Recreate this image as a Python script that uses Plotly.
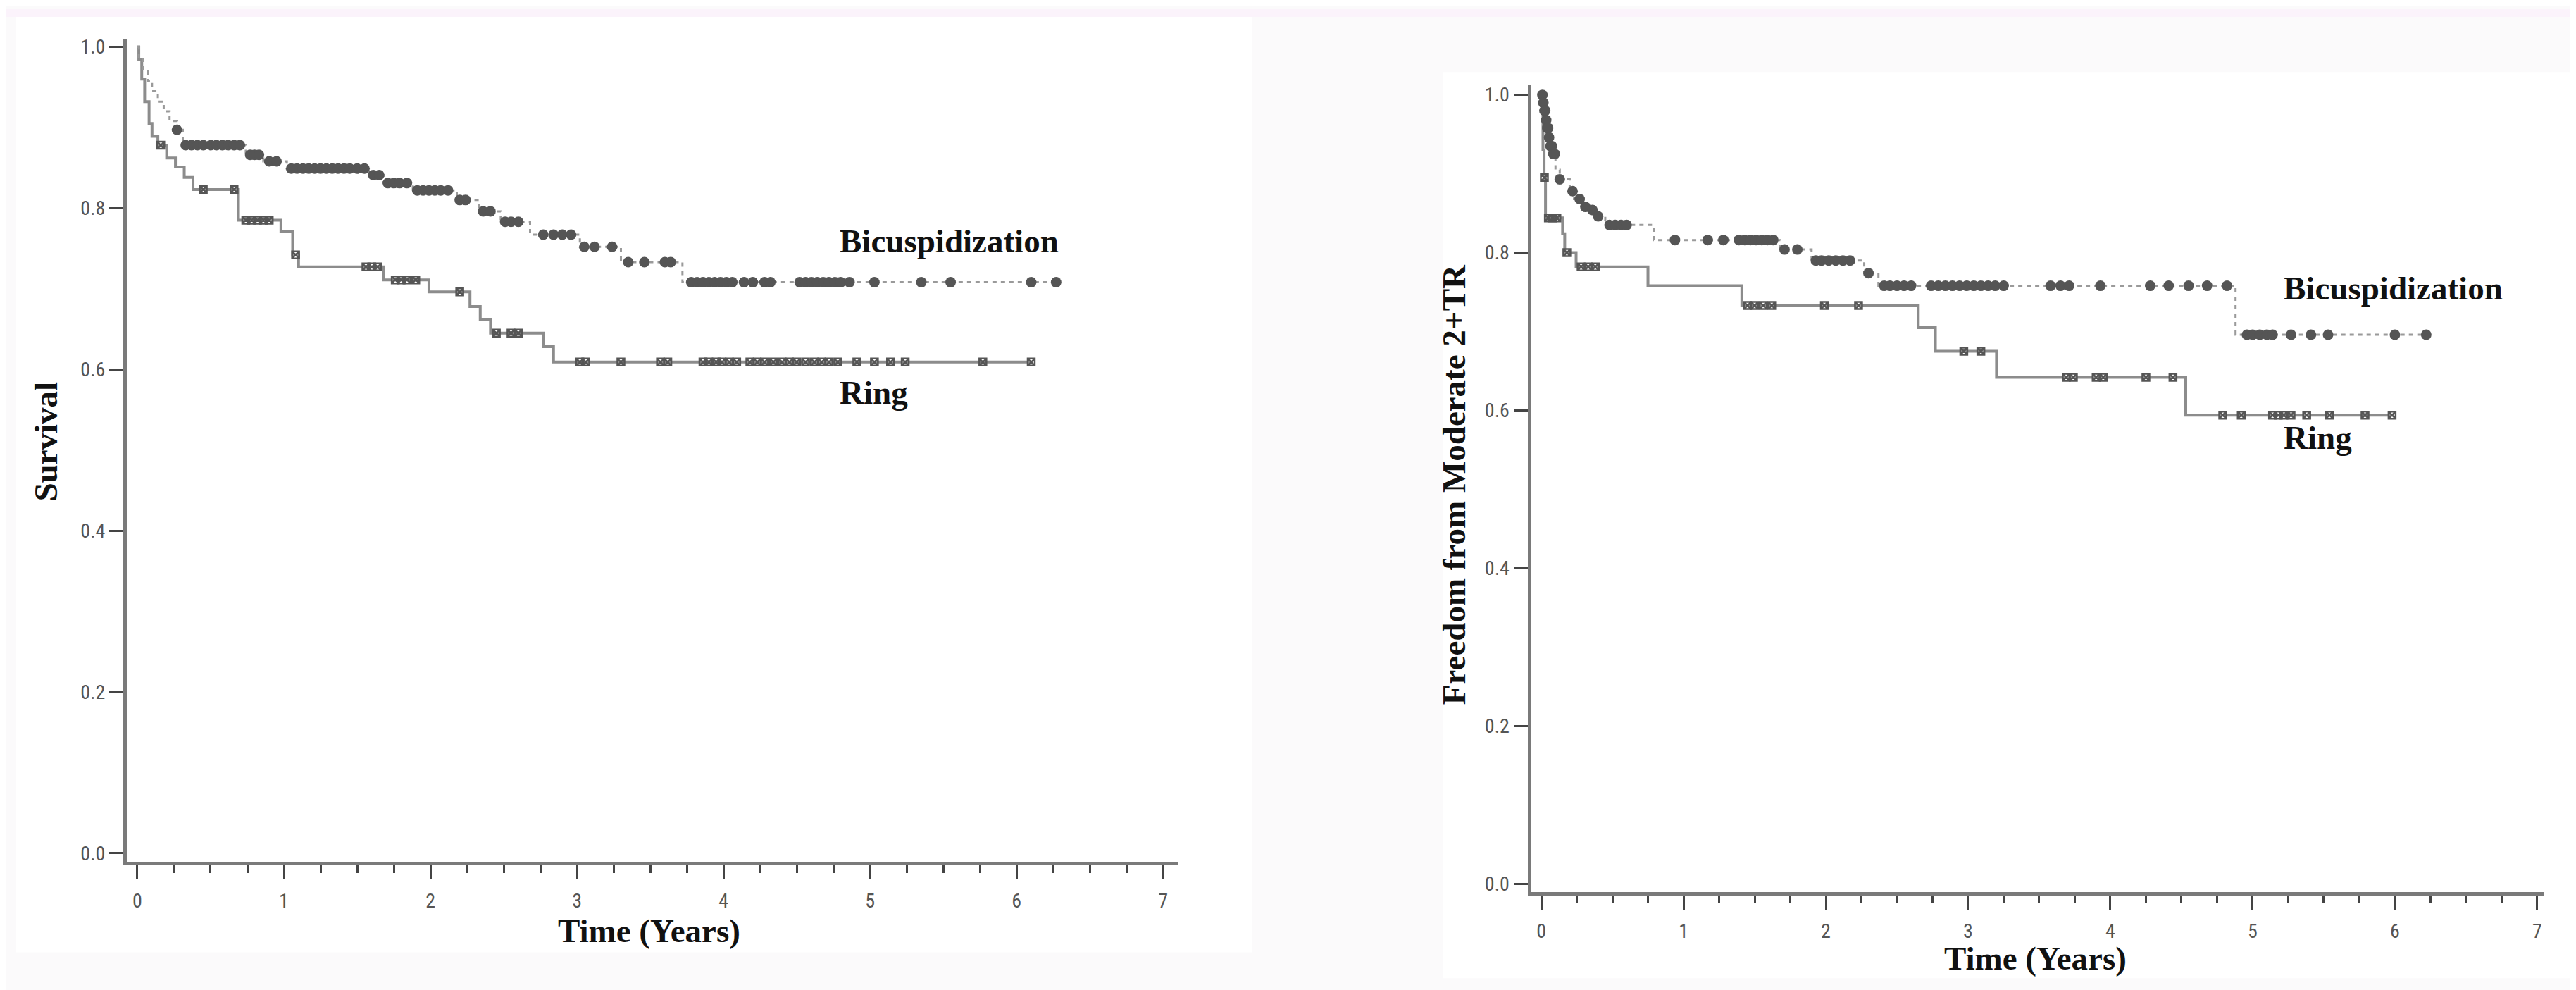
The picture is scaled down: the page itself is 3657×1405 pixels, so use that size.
import numpy as np
import plotly.graph_objects as go

W, H = 3657, 1405

# ---------------- Data ----------------
# Left panel: Survival
surv_bic_t = [0, 0.01, 0.04, 0.07, 0.10, 0.14, 0.18, 0.22, 0.27, 0.31, 0.74, 0.86, 1.02,
              1.58, 1.68, 1.88, 2.18, 2.33, 2.48, 2.68, 3.02, 3.30, 3.72]
surv_bic_s = [1.0, 0.985, 0.972, 0.958, 0.945, 0.932, 0.920, 0.908, 0.897, 0.878, 0.866, 0.858, 0.849,
              0.841, 0.831, 0.822, 0.810, 0.796, 0.783, 0.767, 0.752, 0.733, 0.708]
surv_bic_end = 6.27
surv_bic_cens = [0.27, 0.33, 0.37, 0.41, 0.45, 0.50, 0.54, 0.58, 0.62, 0.66, 0.70, 0.77, 0.80, 0.83,
                 0.90, 0.95, 1.05, 1.09, 1.13, 1.17, 1.21, 1.25, 1.29, 1.33, 1.37, 1.41, 1.45, 1.50,
                 1.55, 1.61, 1.65, 1.71, 1.75, 1.79, 1.84, 1.91, 1.95, 1.99, 2.03, 2.07, 2.12, 2.20,
                 2.24, 2.36, 2.41, 2.51, 2.55, 2.60, 2.77, 2.84, 2.90, 2.96, 3.05, 3.12, 3.24, 3.35,
                 3.46, 3.60, 3.64, 3.78, 3.82, 3.86, 3.90, 3.94, 3.98, 4.02, 4.06, 4.14, 4.20, 4.28,
                 4.32, 4.52, 4.56, 4.60, 4.64, 4.68, 4.72, 4.76, 4.80, 4.86, 5.03, 5.35, 5.55, 6.10, 6.27]

surv_ring_t = [0, 0.01, 0.03, 0.05, 0.08, 0.10, 0.14, 0.20, 0.26, 0.32, 0.38, 0.69, 0.98, 1.06,
               1.10, 1.68, 1.99, 2.27, 2.34, 2.41, 2.77, 2.84]
surv_ring_s = [1.0, 0.984, 0.960, 0.932, 0.905, 0.889, 0.878, 0.862, 0.851, 0.838, 0.823, 0.785, 0.771,
               0.742, 0.727, 0.711, 0.696, 0.678, 0.662, 0.645, 0.628, 0.609]
surv_ring_end = 6.10
surv_ring_cens = [0.16, 0.45, 0.66, 0.74, 0.78, 0.82, 0.86, 0.90, 1.08, 1.56, 1.60, 1.64, 1.76, 1.80,
                  1.84, 1.90, 2.20, 2.45, 2.55, 2.60, 3.02, 3.06, 3.30, 3.57, 3.62, 3.86, 3.90, 3.95,
                  3.99, 4.04, 4.09, 4.18, 4.23, 4.28, 4.34, 4.40, 4.45, 4.50, 4.56, 4.62, 4.67, 4.72,
                  4.78, 4.91, 5.03, 5.14, 5.24, 5.77, 6.10]

# Right panel: Freedom from Moderate 2+TR
tr_bic_t = [0, 0.01, 0.02, 0.03, 0.04, 0.05, 0.06, 0.08, 0.10, 0.13, 0.20, 0.23, 0.29, 0.34, 0.39,
            0.45, 0.79, 1.68, 1.90, 2.27, 2.37, 4.88]
tr_bic_s = [1.0, 0.990, 0.980, 0.968, 0.958, 0.946, 0.935, 0.925, 0.905, 0.893, 0.878, 0.868, 0.858,
            0.854, 0.846, 0.835, 0.816, 0.804, 0.790, 0.774, 0.758, 0.696]
tr_bic_end = 6.24
tr_bic_cens = [0.008, 0.015, 0.022, 0.028, 0.035, 0.042, 0.048, 0.055, 0.065, 0.075, 0.085, 0.095,
               0.13, 0.22, 0.27, 0.31, 0.36, 0.40, 0.48, 0.52, 0.56, 0.60, 0.94, 1.17, 1.28, 1.39,
               1.43, 1.47, 1.51, 1.55, 1.59, 1.63, 1.71, 1.80, 1.93, 1.97, 2.02, 2.07, 2.12, 2.17,
               2.30, 2.41, 2.45, 2.50, 2.55, 2.60, 2.74, 2.79, 2.84, 2.89, 2.94, 2.99, 3.04, 3.09,
               3.14, 3.19, 3.25, 3.58, 3.65, 3.71, 3.93, 4.28, 4.41, 4.55, 4.68, 4.82, 4.96, 5.00,
               5.05, 5.10, 5.14, 5.27, 5.41, 5.53, 6.00, 6.22]

tr_ring_t = [0, 0.012, 0.02, 0.03, 0.15, 0.165, 0.245, 0.75, 1.41, 2.65, 2.77, 3.20, 4.53]
tr_ring_s = [1.0, 0.930, 0.895, 0.844, 0.824, 0.800, 0.782, 0.758, 0.733, 0.705, 0.675, 0.642, 0.594]
tr_ring_end = 5.98
tr_ring_cens = [0.022, 0.05, 0.08, 0.11, 0.18, 0.28, 0.33, 0.38, 1.45, 1.50, 1.56, 1.62, 1.99, 2.23,
                2.97, 3.09, 3.69, 3.74, 3.90, 3.95, 4.25, 4.44, 4.79, 4.92, 5.14, 5.18, 5.22, 5.27,
                5.38, 5.54, 5.79, 5.98]

y_ticks = [0.0, 0.2, 0.4, 0.6, 0.8, 1.0]
x_ticks = [0, 1, 2, 3, 4, 5, 6, 7]
group_names = ["Bicuspidization", "Ring"]
left_ytitle = "Survival"
right_ytitle = "Freedom from Moderate 2+TR"
xtitle = "Time (Years)"


def step_xy(t, s, end):
    x = list(t) + [end]
    y = list(s) + [s[-1]]
    return x, y


def cens_y(t, s, c):
    t = np.asarray(t)
    s = np.asarray(s)
    idx = np.searchsorted(t, np.asarray(c), side="right") - 1
    return s[np.clip(idx, 0, len(s) - 1)]


LINE_GRAY = "#8c8c8c"
MARK = "#555555"

fig = go.Figure()


def add_panel(xa, ya, bt, bs, bend, bc, rt, rs, rend, rc):
    x, y = step_xy(rt, rs, rend)
    fig.add_trace(go.Scatter(x=x, y=y, mode="lines", line=dict(shape="hv", color=LINE_GRAY, width=4),
                             xaxis=xa, yaxis=ya, showlegend=False, hoverinfo="skip"))
    fig.add_trace(go.Scatter(x=rc, y=cens_y(rt, rs, rc), mode="markers",
                             marker=dict(symbol="square-x-open", size=10, color=MARK, line=dict(width=2.5, color=MARK)),
                             xaxis=xa, yaxis=ya, showlegend=False, hoverinfo="skip"))
    x, y = step_xy(bt, bs, bend)
    fig.add_trace(go.Scatter(x=x, y=y, mode="lines",
                             line=dict(shape="hv", color="#9a9a9a", width=3, dash="6px,6px"),
                             xaxis=xa, yaxis=ya, showlegend=False, hoverinfo="skip"))
    fig.add_trace(go.Scatter(x=bc, y=cens_y(bt, bs, bc), mode="markers",
                             marker=dict(symbol="circle", size=15, color=MARK, line=dict(width=0)),
                             xaxis=xa, yaxis=ya, showlegend=False, hoverinfo="skip"))


add_panel("x", "y", surv_bic_t, surv_bic_s, surv_bic_end, surv_bic_cens,
          surv_ring_t, surv_ring_s, surv_ring_end, surv_ring_cens)
add_panel("x2", "y2", tr_bic_t, tr_bic_s, tr_bic_end, tr_bic_cens,
          tr_ring_t, tr_ring_s, tr_ring_end, tr_ring_cens)

TICKFONT = dict(family="Liberation Sans Narrow, Arial Narrow, Roboto Condensed, Liberation Sans, sans-serif",
                size=28, color="#555555")
AXCOL = "#7a7a7a"


def xaxis_cfg(domain, rng):
    return dict(domain=domain, range=rng, showgrid=False, zeroline=False, showline=True,
                linecolor=AXCOL, linewidth=5, ticks="outside", ticklen=20, tickwidth=3,
                tickcolor="#444444", tickvals=x_ticks, ticktext=[str(v) for v in x_ticks],
                tickfont=TICKFONT, ticklabelstandoff=6,
                minor=dict(dtick=0.25, tick0=0, ticks="outside", ticklen=11, tickwidth=3,
                           tickcolor="#444444", showgrid=False),
                fixedrange=True)


def yaxis_cfg(domain, rng, anchor):
    return dict(domain=domain, range=rng, showgrid=False, zeroline=False, showline=True,
                linecolor=AXCOL, linewidth=5, ticks="outside", ticklen=20, tickwidth=3,
                tickcolor="#444444", tickvals=y_ticks, ticktext=[f"{v:.1f}" for v in y_ticks],
                tickfont=TICKFONT, anchor=anchor, fixedrange=True)


fig.update_layout(
    width=W, height=H,
    margin=dict(l=0, r=0, t=0, b=0),
    paper_bgcolor="#fbfafb",
    plot_bgcolor="rgba(0,0,0,0)",
    xaxis=dict(**xaxis_cfg([172 / W, 1664 / W], [-0.072, 7.1]), anchor="y"),
    yaxis=yaxis_cfg([1 - 1219 / H, 1 - 42.3 / H], [-0.011, 1.01], "x"),
    xaxis2=dict(**xaxis_cfg([2165.5 / W, 3604 / W], [-0.072, 7.05]), anchor="y2"),
    yaxis2=yaxis_cfg([1 - 1262 / H, 1 - 109 / H], [-0.0106, 1.012], "x2"),
)

# background panels
shapes = [
    dict(type="rect", xref="paper", yref="paper", x0=0, x1=1, y0=1 - 11 / H, y1=1,
         fillcolor="#fbf3fb", line=dict(width=0), layer="below"),
    dict(type="rect", xref="paper", yref="paper", x0=15 / W, x1=1770 / W, y0=1 - 1348 / H, y1=1 - 11 / H,
         fillcolor="white", line=dict(width=0), layer="below"),
    dict(type="rect", xref="paper", yref="paper", x0=2040 / W, x1=3640 / W, y0=1 - 1385 / H, y1=1 - 90 / H,
         fillcolor="white", line=dict(width=0), layer="below"),
]
fig.update_layout(shapes=shapes)

SERIF = "Liberation Serif, Times New Roman, serif"


def ann(text, px, py, size=47, angle=0, xanchor="center"):
    return dict(text=f"<b>{text}</b>", xref="paper", yref="paper", x=px / W, y=1 - py / H,
                xanchor=xanchor, yanchor="middle", showarrow=False, textangle=angle,
                font=dict(family=SERIF, size=size, color="#111111"))


fig.update_layout(annotations=[
    ann(left_ytitle, 57, 618, angle=-90),
    ann(xtitle, 913, 1317),
    ann(group_names[0], 1182, 331, xanchor="left"),
    ann(group_names[1], 1182, 548, xanchor="left"),
    ann(right_ytitle, 2056, 680, angle=-90),
    ann(xtitle, 2881, 1357),
    ann(group_names[0], 3232, 399, xanchor="left"),
    ann(group_names[1], 3232, 612, xanchor="left"),
])

fig.write_html("out.html")
